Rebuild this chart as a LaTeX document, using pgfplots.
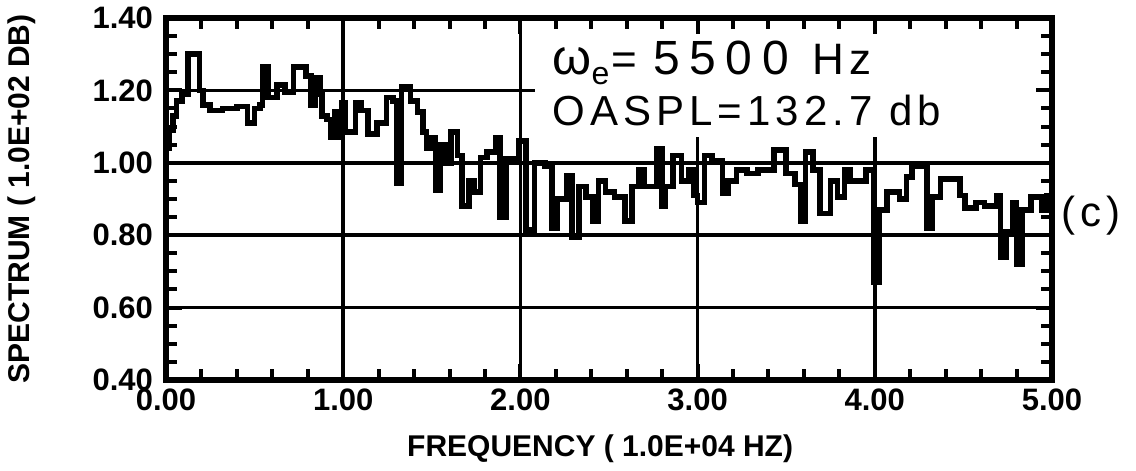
\documentclass[border=0pt]{standalone}
\usepackage{pgfplots}
\pgfplotsset{compat=1.18}
\usepackage{fontspec}
\setmainfont{Liberation Sans}
\newfontfamily\boxfont[LetterSpace=12]{Liberation Sans}
\newfontfamily\boxfontw[LetterSpace=20]{Liberation Sans}

% spectrum, step values (x in 1.0E+04 Hz, level in 1.0E+02 dB)
\pgfplotstableread{
x y
0.00 1.04
0.02 1.09
0.04 1.13
0.06 1.17
0.09 1.19
0.125 1.30
0.19 1.20
0.21 1.16
0.25 1.145
0.32 1.15
0.40 1.155
0.46 1.11
0.50 1.15
0.53 1.16
0.545 1.265
0.575 1.18
0.625 1.215
0.67 1.195
0.72 1.265
0.79 1.24
0.82 1.16
0.84 1.235
0.87 1.19
0.88 1.13
0.91 1.12
0.93 1.07
0.955 1.14
0.97 1.07
0.99 1.165
1.01 1.085
1.07 1.165
1.10 1.145
1.14 1.08
1.19 1.11
1.245 1.18
1.28 1.17
1.30 0.945
1.33 1.21
1.38 1.17
1.42 1.14
1.45 1.085
1.47 1.04
1.50 1.07
1.52 0.925
1.55 1.05
1.58 1.00
1.61 1.085
1.645 1.02
1.67 0.88
1.71 0.95
1.74 0.92
1.775 1.015
1.81 1.03
1.86 1.07
1.885 0.85
1.92 1.01
1.99 1.06
2.03 0.815
2.08 1.00
2.14 0.99
2.18 0.82
2.21 0.90
2.26 0.965
2.29 0.795
2.33 0.935
2.37 0.905
2.41 0.84
2.44 0.95
2.48 0.92
2.53 0.905
2.59 0.84
2.63 0.935
2.67 0.98
2.70 0.935
2.77 1.04
2.80 0.88
2.82 0.935
2.86 1.02
2.91 0.95
2.95 0.98
2.98 0.91
3.00 0.89
3.04 1.02
3.08 1.005
3.14 0.915
3.17 0.95
3.22 0.98
3.28 0.97
3.34 0.98
3.43 1.035
3.50 0.97
3.55 0.94
3.585 0.84
3.61 1.03
3.65 0.98
3.69 0.86
3.75 0.95
3.79 0.905
3.83 0.98
3.86 0.95
3.95 0.98
3.995 0.67
4.025 0.87
4.07 0.92
4.14 0.90
4.18 0.96
4.21 0.99
4.295 0.82
4.325 0.905
4.37 0.955
4.48 0.91
4.51 0.875
4.57 0.89
4.62 0.88
4.69 0.91
4.71 0.74
4.74 0.81
4.78 0.89
4.80 0.72
4.83 0.87
4.88 0.905
4.94 0.87
4.97 0.91
5.00 0.91
}\spectrum

\begin{document}
\begin{tikzpicture}
\begin{axis}[
  scale only axis, width=443pt, height=181pt,
  xmin=0, xmax=5, ymin=0.4, ymax=1.4,
  axis line style={line width=2.8pt},
  xtick={0,1,...,5}, ytick={0.4,0.6,...,1.4},
  minor x tick num=4, minor y tick num=3,
  tick align=inside,
  major tick length=8pt, minor tick length=5.5pt,
  every tick/.style={black, line width=2pt},
  /pgf/number format/assume math mode=true,
  xticklabel={\pgfmathprintnumber[fixed,fixed zerofill,precision=2]{\tick}},
  yticklabel={\pgfmathprintnumber[fixed,fixed zerofill,precision=2]{\tick}},
  tick label style={font=\fontsize{15.5}{15.5}\selectfont\bfseries},
  yticklabel style={xshift=-3pt},
  xticklabel style={yshift=-1pt},
  xlabel={FREQUENCY ( 1.0E+04 HZ)},
  ylabel={SPECTRUM ( 1.0E+02 DB)},
  label style={font=\fontsize{15}{15}\selectfont\bfseries},
  xlabel style={at={(axis description cs:0.49,-0.19)}, anchor=center},
  ylabel style={at={(axis description cs:-0.1625,0.5)}, anchor=center},
  clip=false,
]
  % grid lines as in the original plot
  \draw[line width=1.8pt] (axis cs:1,0.4) -- (axis cs:1,1.4);
  \draw[line width=1.8pt] (axis cs:2,0.4) -- (axis cs:2,1.4);
  \draw[line width=1.8pt] (axis cs:3,0.4) -- (axis cs:3,1.07);
  \draw[line width=1.8pt] (axis cs:4,0.4) -- (axis cs:4,1.07);
  \draw[line width=1.8pt] (axis cs:0,0.6) -- (axis cs:5,0.6);
  \draw[line width=1.8pt] (axis cs:0,0.8) -- (axis cs:5,0.8);
  \draw[line width=1.8pt] (axis cs:0,1.0) -- (axis cs:5,1.0);
  \draw[line width=1.8pt] (axis cs:0,1.2) -- (axis cs:2.08,1.2);

  \addplot[const plot, black, line width=2.8pt, line join=miter] table[x=x, y=y] {\spectrum};

  \node[anchor=base west, font=\boxfont\fontsize{22}{22}\selectfont, inner sep=0pt]
    at (axis cs:2.18,1.243) {{\fontsize{25}{25}\selectfont ω}\raisebox{-0.4ex}{\fontsize{16}{16}\selectfont e}\kern1pt=\kern8pt{\boxfontw\fontsize{24}{24}\selectfont 5500}\kern12pt Hz};
  \node[anchor=base west, font=\boxfont\fontsize{21}{21}\selectfont, inner sep=0pt]
    at (axis cs:2.18,1.104) {OASPL=132.7 db};
  \node[anchor=west, font=\boxfont\fontsize{21}{21}\selectfont, inner sep=0pt]
    at (axis cs:5.05,0.855) {(c)};
\end{axis}
\pgfresetboundingbox
\useasboundingbox (-83pt,-45.5pt) rectangle (485pt,190pt);
\end{tikzpicture}
\end{document}
